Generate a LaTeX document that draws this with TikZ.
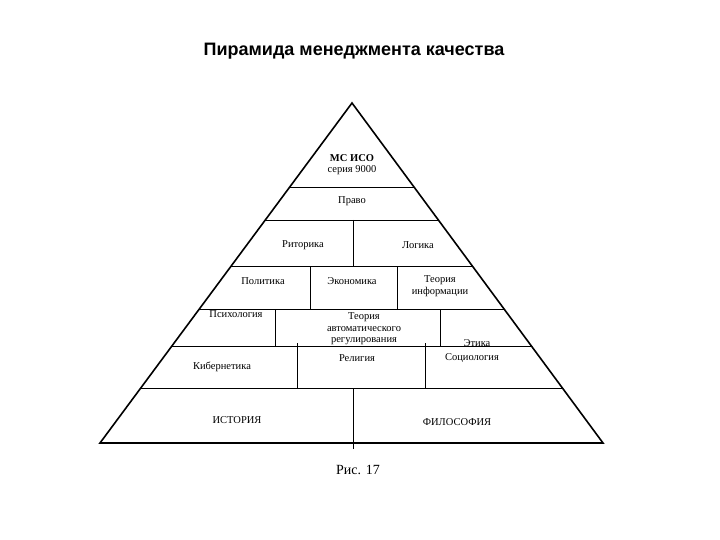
\documentclass[tikz,border=0pt]{standalone}
\usepackage{fontspec}
\setmainfont{Liberation Serif}
\newfontfamily\titlefont{Liberation Sans}
\usetikzlibrary{calc}

\begin{document}
\begin{tikzpicture}[x=1pt,y=-1pt,line width=0.8pt,
  lbl/.style={font=\fontsize{10.5}{11.5}\selectfont,align=center,inner sep=0pt}]
  \useasboundingbox (0,0) rectangle (720,540);
  \node[font=\titlefont\bfseries\fontsize{18}{20}\selectfont] (title) at (354,51) {Пирамида менеджмента качества};
  \coordinate (apex) at (352,103);
  \coordinate (bl) at (100,443);
  \coordinate (br) at (603,443);
  % уровни пирамиды
  \foreach \y in {187,220,266,309,346,388}
    \draw ($(apex)!{(\y-103)/340}!(bl)$) -- ($(apex)!{(\y-103)/340}!(br)$);
  \foreach \x/\ya/\yb in {353/220/266,310/266/309,397/266/309,275/309/346,440/309/346,297/343/388,425/343/388,353/388/449}
    \draw (\x,\ya) -- (\x,\yb);
  \draw[line width=1.6pt,line join=miter] (bl) -- (apex) -- (br) -- cycle;
  % подписи
  \node[lbl,font=\fontsize{10.5}{11.5}\selectfont\bfseries] (iso) at (352,158) {МС ИСО};
  \node[lbl] (seria) at (352,170) {серия 9000};
  \node[lbl] (pravo) at (352,201) {Право};
  \node[lbl] (ritor) at (303,245) {Риторика};
  \node[lbl] (logika) at (418,245) {Логика};
  \node[lbl] (polit) at (263,281) {Политика};
  \node[lbl] (econ) at (352,281) {Экономика};
  \node[lbl] (tinf) at (440,286) {Теория\\информации};
  \node[lbl] (psych) at (236,314) {Психология};
  \node[lbl] (tar) at (364,329) {Теория\\автоматического\\регулирования};
  \node[lbl] (etika) at (477,343) {Этика};
  \node[lbl] (kiber) at (222,367) {Кибернетика};
  \node[lbl] (relig) at (357,358) {Религия};
  \node[lbl] (socio) at (472,358) {Социология};
  \node[lbl] (hist) at (237,420) {ИСТОРИЯ};
  \node[lbl] (filos) at (457,422) {ФИЛОСОФИЯ};
  \node[font=\fontsize{14}{16}\selectfont] (ris) at (358,470) {Рис. 17};
\end{tikzpicture}
\end{document}
